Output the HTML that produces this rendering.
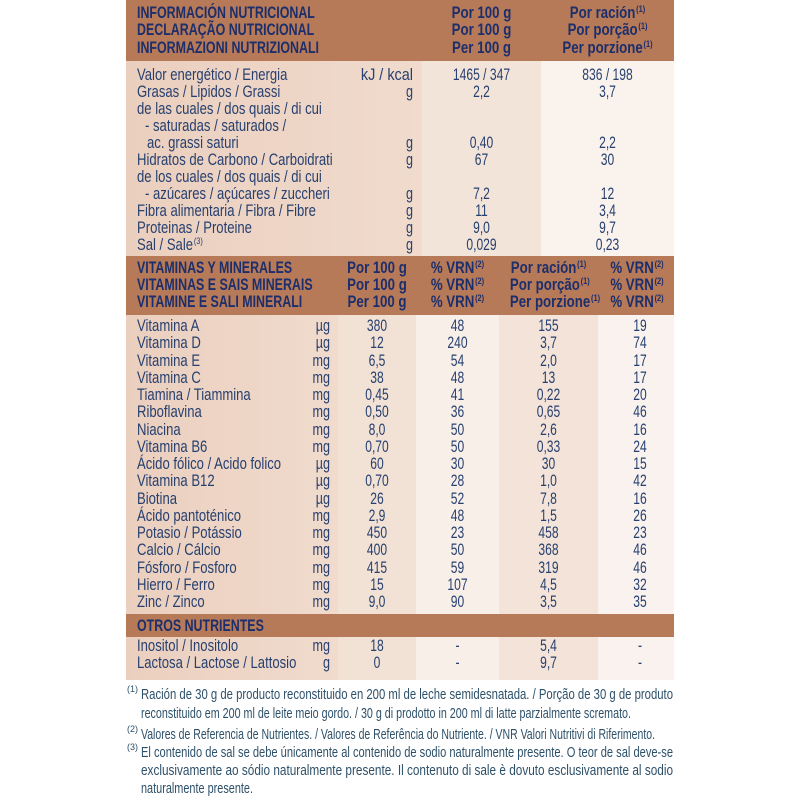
<!DOCTYPE html>
<html><head><meta charset="utf-8">
<style>
html,body{margin:0;padding:0;background:#fff;}
#w{position:relative;width:800px;height:800px;overflow:hidden;background:#fff;font-family:"Liberation Sans",sans-serif;}
.b{position:absolute;}
.row{position:absolute;left:0;width:800px;height:18px;}
.t{position:absolute;top:0;white-space:nowrap;font-size:16.8px;line-height:18px;height:18px;color:#27406f;}
.l{transform:scaleX(.78);transform-origin:0 50%;left:137px;}
.i1{left:145px;}
.i2{left:147px;}
.c{text-align:center;transform:scaleX(.72);transform-origin:50% 50%;}
.r{text-align:right;transform:scaleX(.75);transform-origin:100% 50%;}
.u1{left:350px;width:63px;}
.u2{left:270px;width:60px;}
.h{font-weight:bold;color:#1c2e6b;font-size:17px;}
.hl{transform:scaleX(.73);transform-origin:0 50%;left:137px;}
.hc{text-align:center;transform:scaleX(.78);transform-origin:50% 50%;}
.p1{left:422px;width:119px;}
.p2{left:541px;width:133px;}
.k1{left:338px;width:78px;}
.k2{left:416px;width:83px;}
.k3{left:499px;width:99px;}
.k4{left:604px;width:72px;}
.k4h{left:598px;width:78px;}
.s{font-size:9.5px;position:relative;top:-6px;margin-left:1px;}
svg{position:absolute;left:0;top:0;}
</style></head>
<body><div id="w">

<!-- backgrounds -->
<div class="b" style="left:126px;top:0;width:548px;height:61px;background:#b77a58"></div>
<div class="b" style="left:126px;top:61px;width:296px;height:195px;background:linear-gradient(90deg,#ebcfbe,#f0dbcd)"></div>
<div class="b" style="left:422px;top:61px;width:119px;height:195px;background:#f3e4d9"></div>
<div class="b" style="left:541px;top:61px;width:133px;height:195px;background:#f9f2ed"></div>

<div class="b" style="left:126px;top:256px;width:548px;height:59px;background:#b77a58"></div>
<div class="b" style="left:126px;top:315px;width:212px;height:299px;background:linear-gradient(90deg,#ebcfbe,#f0dbcd)"></div>
<div class="b" style="left:338px;top:315px;width:78px;height:299px;background:#f2e1d5"></div>
<div class="b" style="left:416px;top:315px;width:83px;height:299px;background:#f8efe9"></div>
<div class="b" style="left:499px;top:315px;width:99px;height:299px;background:#f3e3d8"></div>
<div class="b" style="left:598px;top:315px;width:76px;height:299px;background:#f9f2ee"></div>

<div class="b" style="left:126px;top:614px;width:548px;height:23px;background:#b77a58"></div>
<div class="b" style="left:126px;top:637px;width:212px;height:43px;background:linear-gradient(90deg,#ebcfbe,#f0dbcd)"></div>
<div class="b" style="left:338px;top:637px;width:78px;height:43px;background:#f2e1d5"></div>
<div class="b" style="left:416px;top:637px;width:83px;height:43px;background:#f8efe9"></div>
<div class="b" style="left:499px;top:637px;width:99px;height:43px;background:#f3e3d8"></div>
<div class="b" style="left:598px;top:637px;width:76px;height:43px;background:#f9f2ee"></div>

<!-- header 1 -->
<div class="row" style="top:3.5px"><div class="t h hl">INFORMACIÓN NUTRICIONAL</div><div class="t h hc p1">Por 100 g</div><div class="t h hc p2">Por ración<span class="s">(1)</span></div></div>
<div class="row" style="top:21px"><div class="t h hl">DECLARAÇÃO NUTRICIONAL</div><div class="t h hc p1">Por 100 g</div><div class="t h hc p2">Por porção<span class="s">(1)</span></div></div>
<div class="row" style="top:38.5px"><div class="t h hl">INFORMAZIONI NUTRIZIONALI</div><div class="t h hc p1">Per 100 g</div><div class="t h hc p2">Per porzione<span class="s">(1)</span></div></div>

<!-- section 1 -->
<div class="row" style="top:66px"><div class="t l">Valor energético / Energia</div><div class="t r u1" style="transform:scaleX(.86)">kJ / kcal</div><div class="t c p1">1465 / 347</div><div class="t c p2">836 / 198</div></div>
<div class="row" style="top:83px"><div class="t l">Grasas / Lipidos / Grassi</div><div class="t r u1">g</div><div class="t c p1">2,2</div><div class="t c p2">3,7</div></div>
<div class="row" style="top:100px"><div class="t l">de las cuales / dos quais / di cui</div></div>
<div class="row" style="top:117px"><div class="t l i1">- saturadas / saturados /</div></div>
<div class="row" style="top:134px"><div class="t l i2">ac. grassi saturi</div><div class="t r u1">g</div><div class="t c p1">0,40</div><div class="t c p2">2,2</div></div>
<div class="row" style="top:151px"><div class="t l">Hidratos de Carbono / Carboidrati</div><div class="t r u1">g</div><div class="t c p1">67</div><div class="t c p2">30</div></div>
<div class="row" style="top:168px"><div class="t l">de los cuales / dos quais / di cui</div></div>
<div class="row" style="top:185px"><div class="t l i1">- azúcares / açúcares / zuccheri</div><div class="t r u1">g</div><div class="t c p1">7,2</div><div class="t c p2">12</div></div>
<div class="row" style="top:202px"><div class="t l">Fibra alimentaria / Fibra / Fibre</div><div class="t r u1">g</div><div class="t c p1">11</div><div class="t c p2">3,4</div></div>
<div class="row" style="top:219px"><div class="t l">Proteinas / Proteine</div><div class="t r u1">g</div><div class="t c p1">9,0</div><div class="t c p2">9,7</div></div>
<div class="row" style="top:236px"><div class="t l">Sal / Sale<span class="s">(3)</span></div><div class="t r u1">g</div><div class="t c p1">0,029</div><div class="t c p2">0,23</div></div>

<!-- header 2 -->
<div class="row" style="top:258.5px"><div class="t h hl">VITAMINAS Y MINERALES</div><div class="t h hc k1">Por 100 g</div><div class="t h hc k2">% VRN<span class="s">(2)</span></div><div class="t h hc k3">Por ración<span class="s">(1)</span></div><div class="t h hc k4h">% VRN<span class="s">(2)</span></div></div>
<div class="row" style="top:276px"><div class="t h hl">VITAMINAS E SAIS MINERAIS</div><div class="t h hc k1">Por 100 g</div><div class="t h hc k2">% VRN<span class="s">(2)</span></div><div class="t h hc k3">Por porção<span class="s">(1)</span></div><div class="t h hc k4h">% VRN<span class="s">(2)</span></div></div>
<div class="row" style="top:293px"><div class="t h hl">VITAMINE E SALI MINERALI</div><div class="t h hc k1">Per 100 g</div><div class="t h hc k2">% VRN<span class="s">(2)</span></div><div class="t h hc k3">Per porzione<span class="s">(1)</span></div><div class="t h hc k4h">% VRN<span class="s">(2)</span></div></div>

<!-- section 2 -->
<div class="row" style="top:317px"><div class="t l">Vitamina A</div><div class="t r u2">µg</div><div class="t c k1">380</div><div class="t c k2">48</div><div class="t c k3">155</div><div class="t c k4">19</div></div>
<div class="row" style="top:334.25px"><div class="t l">Vitamina D</div><div class="t r u2">µg</div><div class="t c k1">12</div><div class="t c k2">240</div><div class="t c k3">3,7</div><div class="t c k4">74</div></div>
<div class="row" style="top:351.5px"><div class="t l">Vitamina E</div><div class="t r u2">mg</div><div class="t c k1">6,5</div><div class="t c k2">54</div><div class="t c k3">2,0</div><div class="t c k4">17</div></div>
<div class="row" style="top:368.75px"><div class="t l">Vitamina C</div><div class="t r u2">mg</div><div class="t c k1">38</div><div class="t c k2">48</div><div class="t c k3">13</div><div class="t c k4">17</div></div>
<div class="row" style="top:386px"><div class="t l">Tiamina / Tiammina</div><div class="t r u2">mg</div><div class="t c k1">0,45</div><div class="t c k2">41</div><div class="t c k3">0,22</div><div class="t c k4">20</div></div>
<div class="row" style="top:403.25px"><div class="t l">Riboflavina</div><div class="t r u2">mg</div><div class="t c k1">0,50</div><div class="t c k2">36</div><div class="t c k3">0,65</div><div class="t c k4">46</div></div>
<div class="row" style="top:420.5px"><div class="t l">Niacina</div><div class="t r u2">mg</div><div class="t c k1">8,0</div><div class="t c k2">50</div><div class="t c k3">2,6</div><div class="t c k4">16</div></div>
<div class="row" style="top:437.75px"><div class="t l">Vitamina B6</div><div class="t r u2">mg</div><div class="t c k1">0,70</div><div class="t c k2">50</div><div class="t c k3">0,33</div><div class="t c k4">24</div></div>
<div class="row" style="top:455px"><div class="t l">Ácido fólico / Acido folico</div><div class="t r u2">µg</div><div class="t c k1">60</div><div class="t c k2">30</div><div class="t c k3">30</div><div class="t c k4">15</div></div>
<div class="row" style="top:472.25px"><div class="t l">Vitamina B12</div><div class="t r u2">µg</div><div class="t c k1">0,70</div><div class="t c k2">28</div><div class="t c k3">1,0</div><div class="t c k4">42</div></div>
<div class="row" style="top:489.5px"><div class="t l">Biotina</div><div class="t r u2">µg</div><div class="t c k1">26</div><div class="t c k2">52</div><div class="t c k3">7,8</div><div class="t c k4">16</div></div>
<div class="row" style="top:506.75px"><div class="t l">Ácido pantoténico</div><div class="t r u2">mg</div><div class="t c k1">2,9</div><div class="t c k2">48</div><div class="t c k3">1,5</div><div class="t c k4">26</div></div>
<div class="row" style="top:524px"><div class="t l">Potasio / Potássio</div><div class="t r u2">mg</div><div class="t c k1">450</div><div class="t c k2">23</div><div class="t c k3">458</div><div class="t c k4">23</div></div>
<div class="row" style="top:541.25px"><div class="t l">Calcio / Cálcio</div><div class="t r u2">mg</div><div class="t c k1">400</div><div class="t c k2">50</div><div class="t c k3">368</div><div class="t c k4">46</div></div>
<div class="row" style="top:558.5px"><div class="t l">Fósforo / Fosforo</div><div class="t r u2">mg</div><div class="t c k1">415</div><div class="t c k2">59</div><div class="t c k3">319</div><div class="t c k4">46</div></div>
<div class="row" style="top:575.75px"><div class="t l">Hierro / Ferro</div><div class="t r u2">mg</div><div class="t c k1">15</div><div class="t c k2">107</div><div class="t c k3">4,5</div><div class="t c k4">32</div></div>
<div class="row" style="top:593px"><div class="t l">Zinc / Zinco</div><div class="t r u2">mg</div><div class="t c k1">9,0</div><div class="t c k2">90</div><div class="t c k3">3,5</div><div class="t c k4">35</div></div>

<!-- otros -->
<div class="row" style="top:617px"><div class="t h hl">OTROS NUTRIENTES</div></div>
<div class="row" style="top:637px"><div class="t l">Inositol / Inositolo</div><div class="t r u2">mg</div><div class="t c k1">18</div><div class="t c k2">-</div><div class="t c k3">5,4</div><div class="t c k4">-</div></div>
<div class="row" style="top:654px"><div class="t l">Lactosa / Lactose / Lattosio</div><div class="t r u2">g</div><div class="t c k1">0</div><div class="t c k2">-</div><div class="t c k3">9,7</div><div class="t c k4">-</div></div>

<!-- footnotes -->
<svg width="800" height="800" viewBox="0 0 800 800" font-family="Liberation Sans, sans-serif" fill="#2d5069">
  <text x="127" y="692" font-size="9">(1)</text>
  <text x="141" y="699" font-size="15" textLength="532" lengthAdjust="spacingAndGlyphs">Ración de 30 g de producto reconstituido en 200 ml de leche semidesnatada. / Porção de 30 g de produto</text>
  <text x="141" y="718" font-size="15" textLength="490" lengthAdjust="spacingAndGlyphs">reconstituido em 200 ml de leite meio gordo. / 30 g di prodotto in 200 ml di latte parzialmente scremato.</text>
  <text x="127" y="732" font-size="9">(2)</text>
  <text x="141" y="739" font-size="15" textLength="514" lengthAdjust="spacingAndGlyphs">Valores de Referencia de Nutrientes. / Valores de Referência do Nutriente. / VNR Valori Nutritivi di Riferimento.</text>
  <text x="127" y="750" font-size="9">(3)</text>
  <text x="141" y="757" font-size="15" textLength="532" lengthAdjust="spacingAndGlyphs">El contenido de sal se debe únicamente al contenido de sodio naturalmente presente. O teor de sal deve-se</text>
  <text x="141" y="775" font-size="15" textLength="532" lengthAdjust="spacingAndGlyphs">exclusivamente ao sódio naturalmente presente. Il contenuto di sale è dovuto esclusivamente al sodio</text>
  <text x="141" y="793" font-size="15" textLength="112" lengthAdjust="spacingAndGlyphs">naturalmente presente.</text>
</svg>

</div></body></html>
